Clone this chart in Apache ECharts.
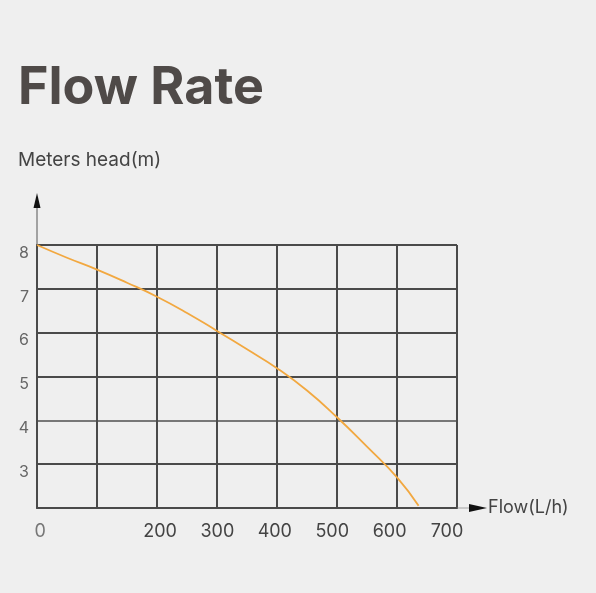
<!DOCTYPE html>
<html><head><meta charset="utf-8">
<script src="https://cdn.jsdelivr.net/npm/echarts@6/dist/echarts.min.js"></script>
<style>html,body{margin:0;padding:0;background:#efefef;}#c{width:596px;height:593px;}</style>
</head><body><div id="c"></div>
<script>
// Data
const flowValues = [0, 50, 100, 150, 200, 250, 300, 350, 400, 450, 500, 550, 600, 636];
const headValues = [8.0, 7.71, 7.44, 7.14, 6.82, 6.45, 6.04, 5.62, 5.19, 4.68, 4.07, 3.40, 2.70, 2.05];
const xTickLabels = [0, 200, 300, 400, 500, 600, 700];
const yTickLabels = [3, 4, 5, 6, 7, 8];

const chart = echarts.init(document.getElementById('c'));
const gridLeft = 37, gridTop = 245, gridRight = 139, gridBottom = 85;
const splitColors = ['#4a4a4a', '#4a4a4a', '#777777', '#4a4a4a', '#4a4a4a', '#4a4a4a', '#4a4a4a'];

chart.setOption({
  backgroundColor: '#efefef',
  animation: false,
  title: [
    { text: 'Flow Rate', left: 13, top: 57,
      textStyle: { fontFamily: 'Inter', fontSize: 52, fontWeight: 'bold', color: '#4f4a48' } },
    { text: 'Meters head(m)', left: 13, top: 146,
      textStyle: { fontFamily: 'Inter', fontSize: 19, fontWeight: 'normal', color: '#444444' } }
  ],
  grid: { left: gridLeft, top: gridTop, right: gridRight, bottom: gridBottom },
  xAxis: [
    { type: 'value', min: 0, max: 700, interval: 100,
      name: 'Flow(L/h)', nameLocation: 'end', nameGap: 31,
      nameTextStyle: { fontFamily: 'Inter', fontSize: 18, color: '#444444', verticalAlign: 'middle', padding: [0,0,4,0] },
      axisLine: { show: true, lineStyle: { color: '#4a4a4a', width: 2 } },
      axisTick: { show: false },
      axisLabel: { show: false },
      splitLine: { show: true, lineStyle: { color: '#4a4a4a', width: 2 } } },
    { type: 'value', min: -14.3, max: 717.4, position: 'bottom',
      axisLine: { show: false }, axisTick: { show: false }, splitLine: { show: false },
      axisLabel: { show: true, customValues: xTickLabels, margin: 15,
        fontFamily: 'Inter', fontSize: 18, color: '#444444',
        rich: { z: { fontFamily: 'Inter', fontSize: 18, color: '#777777', padding: [0, 10, 0, 0] } },
        formatter: v => v === 0 ? '{z|0}' : (xTickLabels.indexOf(v) >= 0 ? String(v) : '') } }
  ],
  yAxis: {
    type: 'value', min: 2, max: 8, interval: 1,
    axisLine: { show: true, lineStyle: { color: '#4a4a4a', width: 2 } },
    axisTick: { show: false },
    axisLabel: { margin: 8, fontFamily: 'Inter', fontSize: 16, color: '#666666', verticalAlign: 'top',
      formatter: v => yTickLabels.indexOf(v) >= 0 ? String(v) : '' },
    splitLine: { show: true, lineStyle: { color: splitColors, width: 2 } }
  },
  series: [{
    type: 'line', xAxisIndex: 0, smooth: 0.5, symbol: 'none',
    data: flowValues.map((f, i) => [f, headValues[i]]),
    lineStyle: { color: '#f2a840', width: 1.8 }
  }]
});

// Axis arrows
const t = chart.convertToPixel({ xAxisIndex: 0, yAxisIndex: 0 }, [0, 8]);
const r = chart.convertToPixel({ xAxisIndex: 0, yAxisIndex: 0 }, [700, 2]);
chart.setOption({
  graphic: [
    { type: 'line', shape: { x1: t[0], y1: t[1], x2: t[0], y2: t[1] - 40 },
      style: { stroke: '#888888', lineWidth: 1.5 } },
    { type: 'polygon', shape: { points: [[t[0], t[1] - 52], [t[0] - 3.5, t[1] - 37], [t[0] + 3.5, t[1] - 37]] },
      style: { fill: '#111111' } },
    { type: 'line', shape: { x1: r[0], y1: r[1], x2: r[0] + 14, y2: r[1] },
      style: { stroke: '#bbbbbb', lineWidth: 1.5 } },
    { type: 'polygon', shape: { points: [[r[0] + 30, r[1]], [r[0] + 12, r[1] - 4], [r[0] + 12, r[1] + 4]] },
      style: { fill: '#111111' } }
  ]
});
</script></body></html>
